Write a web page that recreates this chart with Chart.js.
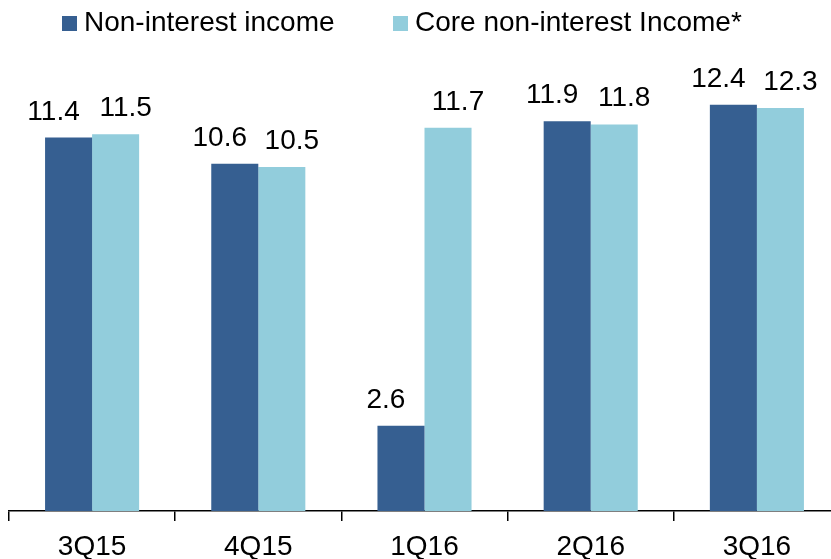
<!DOCTYPE html>
<html>
<head>
<meta charset="utf-8">
<script src="https://cdn.jsdelivr.net/npm/chart.js@4/dist/chart.umd.min.js"></script>
<style>
  html, body { margin: 0; padding: 0; background: #fff; overflow: hidden; }
  #wrap { width: 840px; height: 559px; position: relative; }
</style>
</head>
<body>
<div id="wrap"><canvas id="c"></canvas></div>
<script>
const categories = ["3Q15", "4Q15", "1Q16", "2Q16", "3Q16"];
const nonInterestIncome = [11.4, 10.6, 2.6, 11.9, 12.4];
const coreNonInterestIncome = [11.5, 10.5, 11.7, 11.8, 12.3];
const seriesNames = ["Non-interest income", "Core non-interest Income*"];

const FONT = '"Liberation Sans", Arial, Helvetica, sans-serif';
const DARK = '#365F91';
const LIGHT = '#92CDDC';

const valueLabels = {
  id: 'valueLabels',
  afterDatasetsDraw(chart) {
    const ctx = chart.ctx;
    const offsets = [-15, 10];
    ctx.save();
    ctx.font = '28px ' + FONT;
    ctx.fillStyle = '#000';
    ctx.textAlign = 'center';
    ctx.textBaseline = 'alphabetic';
    chart.data.datasets.forEach((ds, i) => {
      chart.getDatasetMeta(i).data.forEach((bar, j) => {
        ctx.fillText(ds.data[j].toFixed(1), bar.x + offsets[i], bar.y - 18);
      });
    });
    ctx.restore();
  }
};

const topLegend = {
  id: 'topLegend',
  afterDraw(chart) {
    const ctx = chart.ctx;
    const starts = [62, 393];
    ctx.save();
    ctx.font = '28px ' + FONT;
    ctx.textBaseline = 'alphabetic';
    ctx.textAlign = 'left';
    chart.data.datasets.forEach((ds, i) => {
      ctx.fillStyle = ds.backgroundColor;
      ctx.fillRect(starts[i], 16, 15, 15);
      ctx.fillStyle = '#000';
      ctx.fillText(ds.label, starts[i] + 22, 31);
    });
    ctx.restore();
  }
};

new Chart(document.getElementById('c'), {
  type: 'bar',
  data: {
    labels: categories,
    datasets: [
      { label: seriesNames[0], data: nonInterestIncome, backgroundColor: DARK,
        categoryPercentage: 0.566, barPercentage: 1.0 },
      { label: seriesNames[1], data: coreNonInterestIncome, backgroundColor: LIGHT,
        categoryPercentage: 0.566, barPercentage: 1.0 }
    ]
  },
  options: {
    responsive: true,
    maintainAspectRatio: false,
    animation: false,
    devicePixelRatio: 1,
    layout: { padding: { left: 9, right: 0, top: 54, bottom: 0 } },
    plugins: {
      legend: { display: false },
      tooltip: { enabled: false }
    },
    scales: {
      x: {
        type: 'category',
        offset: true,
        grid: { offset: true, drawOnChartArea: false, drawTicks: true, tickLength: 10,
                color: '#000', lineWidth: 1.5 },
        border: { display: true, color: '#000', width: 1.5 },
        ticks: { color: '#000', font: { size: 28, family: FONT }, padding: 9,
                 maxRotation: 0, autoSkip: false },
        afterFit(s) { s.height = 48; }
      },
      y: {
        display: false,
        min: 0,
        max: 13.95
      }
    }
  },
  plugins: [valueLabels, topLegend]
});
</script>
</body>
</html>
